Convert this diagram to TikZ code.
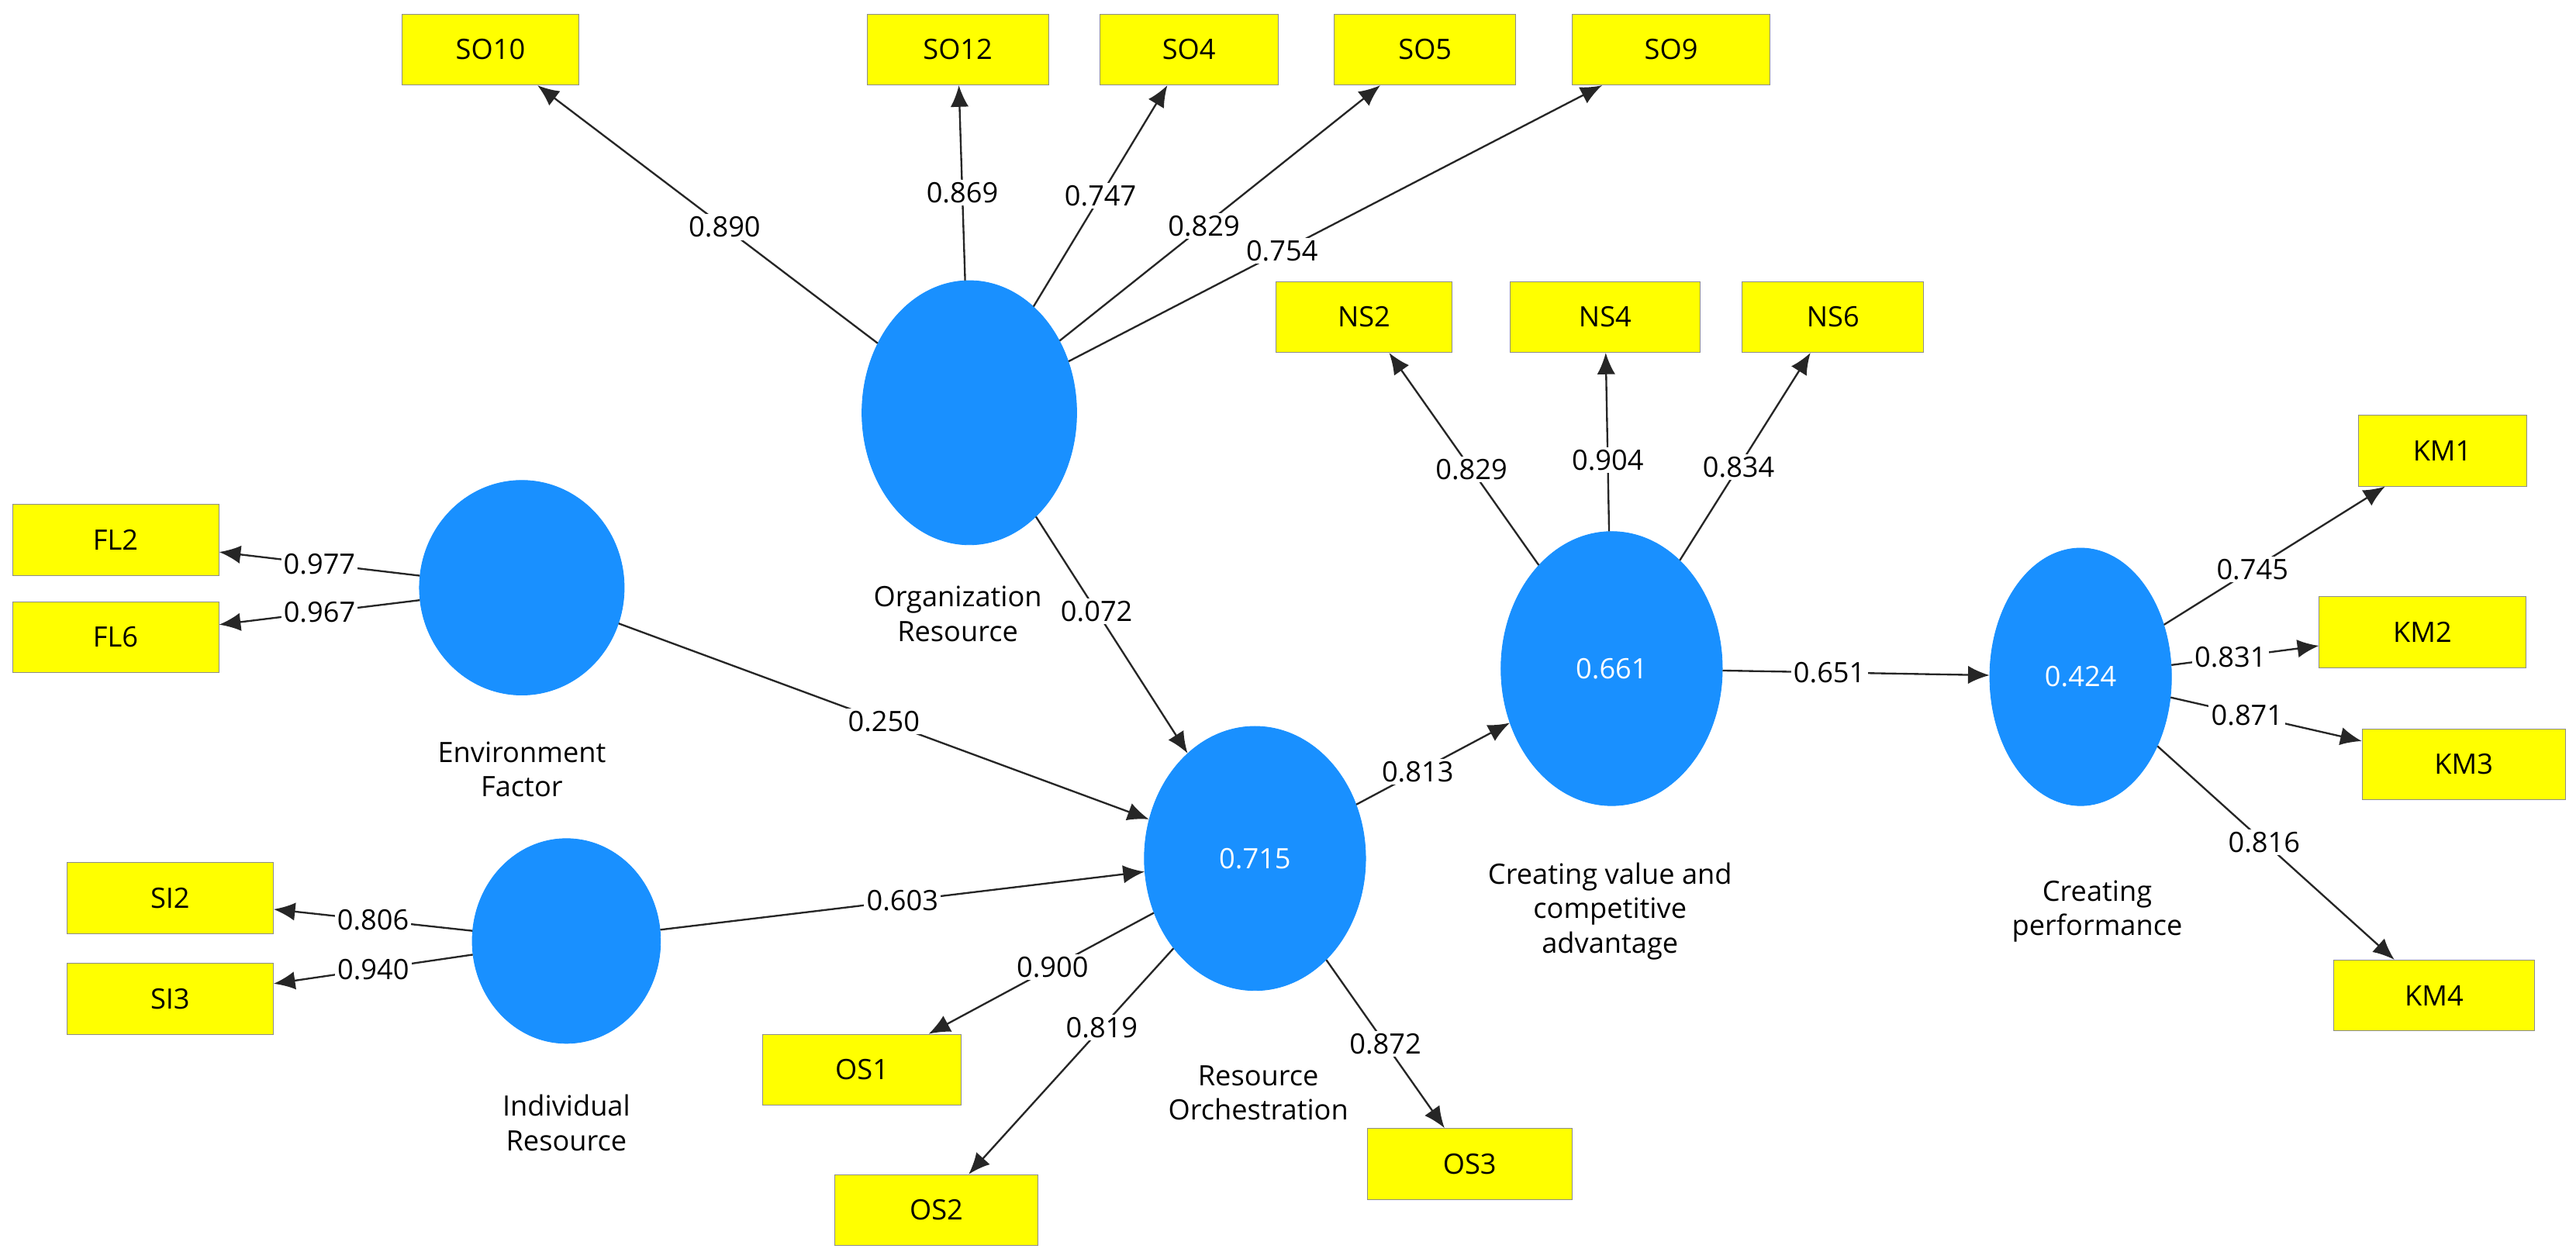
\documentclass[tikz,border=0pt]{standalone}
\usepackage{fontspec}
\setmainfont{Open Sans}
\usetikzlibrary{arrows.meta, shapes.geometric}
\definecolor{lvblue}{RGB}{25,144,255}
\definecolor{indyel}{RGB}{255,255,0}
\begin{document}
\begin{tikzpicture}[x=1pt,y=-1pt,
    every node/.style={font=\fontsize{17}{20}\selectfont},
    lv/.style={ellipse, draw=lvblue, fill=lvblue, text=white, inner sep=0pt},
    ind/.style={rectangle, draw=black!45, fill=indyel, minimum height=43pt, inner sep=2pt},
    lbl/.style={align=center, font=\fontsize{17}{21}\selectfont},
    coef/.style={fill=white, inner sep=1.5pt},
    arr/.style={draw=black!85, line width=1.1pt, -{Latex[length=13pt,width=11pt]}}
]
\useasboundingbox (0,0) rectangle (1560,758);

% latent variables
\node[lv, minimum width=130pt, minimum height=160pt] (org) at (587,250) {};
\node[lv, minimum width=124pt, minimum height=130pt] (env) at (316,356) {};
\node[lv, minimum width=114pt, minimum height=124pt] (indr) at (343,570) {};
\node[lv, minimum width=134pt, minimum height=160pt] (ro) at (760,520) {0.715};
\node[lv, minimum width=134pt, minimum height=166pt] (cv) at (976,405) {0.661};
\node[lv, minimum width=110pt, minimum height=156pt] (cp) at (1260,410) {0.424};

\node[lbl] (orgl) at (580,372) {Organization\\Resource};
\node[lbl] (envl) at (316,466) {Environment\\Factor};
\node[lbl] (indl) at (343,680) {Individual\\Resource};
\node[lbl] (rol) at (762,662) {Resource\\Orchestration};
\node[lbl] (cvl) at (975,552) {Creating value and\\competitive\\advantage};
\node[lbl] (cpl) at (1270,552) {Creating\\performance};

% indicators
\node[ind, minimum width=107pt] (so10) at (297,30) {SO10};
\node[ind, minimum width=110pt] (so12) at (580,30) {SO12};
\node[ind, minimum width=108pt] (so4) at (720,30) {SO4};
\node[ind, minimum width=110pt] (so5) at (863,30) {SO5};
\node[ind, minimum width=120pt] (so9) at (1012,30) {SO9};
\node[ind, minimum width=107pt] (ns2) at (826,192) {NS2};
\node[ind, minimum width=115pt] (ns4) at (972,192) {NS4};
\node[ind, minimum width=110pt] (ns6) at (1110,192) {NS6};
\node[ind, minimum width=125pt] (fl2) at (70,327) {FL2};
\node[ind, minimum width=125pt] (fl6) at (70,386) {FL6};
\node[ind, minimum width=125pt] (si2) at (103,544) {SI2};
\node[ind, minimum width=125pt] (si3) at (103,605) {SI3};
\node[ind, minimum width=120pt] (os1) at (522,648) {OS1};
\node[ind, minimum width=123pt] (os2) at (567,733) {OS2};
\node[ind, minimum width=124pt] (os3) at (890,705) {OS3};
\node[ind, minimum width=102pt] (km1) at (1479,273) {KM1};
\node[ind, minimum width=125pt] (km2) at (1467,383) {KM2};
\node[ind, minimum width=123pt] (km3) at (1492,463) {KM3};
\node[ind, minimum width=122pt] (km4) at (1474,603) {KM4};

% outer loadings
\draw[arr] (org) -- node[coef, pos=0.45] {0.890} (so10);
\draw[arr] (org) -- node[coef, pos=0.45] {0.869} (so12);
\draw[arr] (org) -- node[coef, pos=0.5] {0.747} (so4);
\draw[arr] (org) -- node[coef, pos=0.45] {0.829} (so5);
\draw[arr] (org) -- node[coef, pos=0.4] {0.754} (so9);
\draw[arr] (cv) -- node[coef, pos=0.45] {0.829} (ns2);
\draw[arr] (cv) -- node[coef, pos=0.4] {0.904} (ns4);
\draw[arr] (cv) -- node[coef, pos=0.45] {0.834} (ns6);
\draw[arr] (env) -- node[coef] {0.977} (fl2);
\draw[arr] (env) -- node[coef] {0.967} (fl6);
\draw[arr] (indr) -- node[coef] {0.806} (si2);
\draw[arr] (indr) -- node[coef] {0.940} (si3);
\draw[arr] (ro) -- node[coef, pos=0.45] {0.900} (os1);
\draw[arr] (ro) -- node[coef, pos=0.35] {0.819} (os2);
\draw[arr] (ro) -- node[coef, pos=0.5] {0.872} (os3);
\draw[arr] (cp) -- node[coef, pos=0.4] {0.745} (km1);
\draw[arr] (cp) -- node[coef, pos=0.4] {0.831} (km2);
\draw[arr] (cp) -- node[coef, pos=0.4] {0.871} (km3);
\draw[arr] (cp) -- node[coef, pos=0.45] {0.816} (km4);

% paths
\draw[arr] (org) -- node[coef, pos=0.4] {0.072} (ro);
\draw[arr] (env) -- node[coef, pos=0.5] {0.250} (ro);
\draw[arr] (indr) -- node[coef, pos=0.5] {0.603} (ro);
\draw[arr] (ro) -- node[coef, pos=0.4] {0.813} (cv);
\draw[arr] (cv) -- node[coef, pos=0.4] {0.651} (cp);
\end{tikzpicture}
\end{document}
